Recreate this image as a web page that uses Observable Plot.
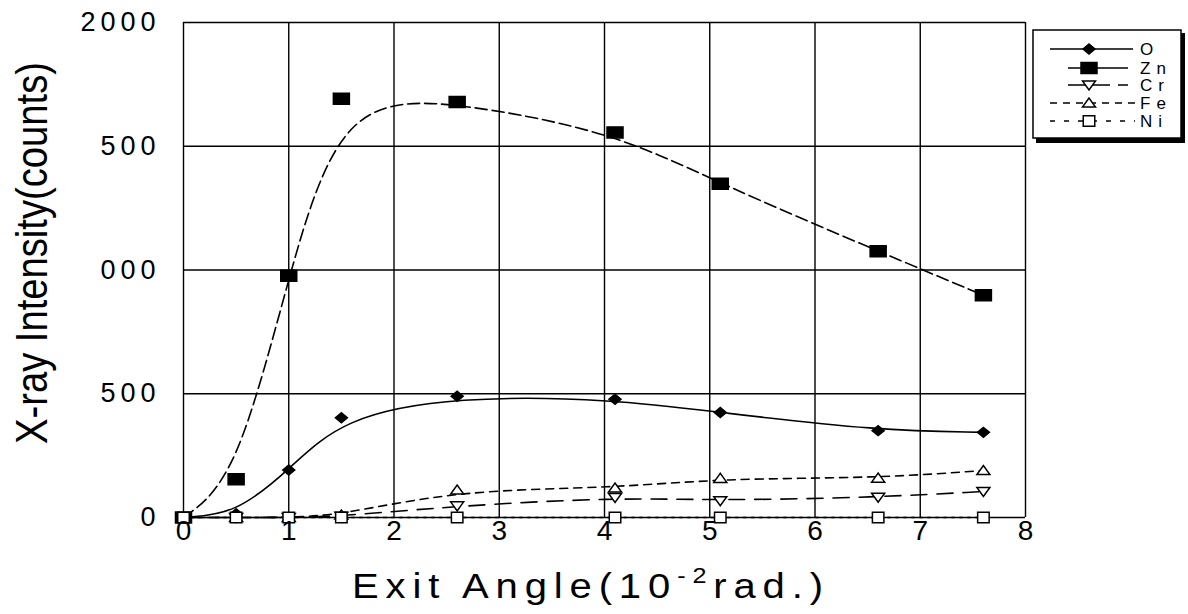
<!DOCTYPE html>
<html><head><meta charset="utf-8">
<script src="https://cdn.jsdelivr.net/npm/d3@7"></script>
<script src="https://cdn.jsdelivr.net/npm/@observablehq/plot@0.6"></script>
<style>
html,body{margin:0;padding:0;background:#fff;}
#chart{position:relative;width:1188px;height:614px;overflow:hidden;}
#chart svg{font-family: Arial, "Liberation Sans", sans-serif; color:#000;}
g[aria-label="y-axis tick label"] text { letter-spacing: 5px; }
</style>
</head><body><div id="chart"></div>
<script>
// ---- data ----
const angles = [0, 0.5, 1.0, 1.5, 2.6, 4.1, 5.1, 6.6, 7.6];
const O  = [0, 15, 192, 403, 490, 478, 424, 351, 344];
const Zn = [0, 155, 977, 1692, 1679, 1556, 1348, 1076, 898];
const Cr = [0, 0, 0, 5, 47, 81, 68, 82, 105];
const Fe = [0, 0, 0, 10, 111, 119, 158, 159, 190];
const Ni = [0, 0, 0, 0, 0, 0, 0, 0, 0];
const seriesNames = ["O", "Zn", "Cr", "Fe", "Ni"];
const seriesValues = [O, Zn, Cr, Fe, Ni];
const xTicks = [0, 1, 2, 3, 4, 5, 6, 7, 8];
const yTicks = [0, 500, 1000, 1500, 2000];
const yTickLabels = ["0", "500", "000", "500", "2000"];
const xTitle = ["Exit Angle(10", "-2", "rad.)"];
const yTitle = "X-ray Intensity(counts)";

// ---- symbols ----
const rad = s => Math.sqrt(s / Math.PI);
const symDiamond = {draw(c, s){const r = rad(s); c.moveTo(-1.2*r,0); c.lineTo(0,-r); c.lineTo(1.2*r,0); c.lineTo(0,r); c.closePath();}};
const symRect = {draw(c, s){const r = rad(s); c.rect(-1.6*r,-1.1*r,3.2*r,2.2*r);}};
const symDown = {draw(c, s){const r = rad(s); c.moveTo(-1.3*r,-0.8*r); c.lineTo(1.3*r,-0.8*r); c.lineTo(0,r); c.closePath();}};
const symUp = {draw(c, s){const r = rad(s); c.moveTo(-1.3*r,0.8*r); c.lineTo(1.3*r,0.8*r); c.lineTo(0,-r); c.closePath();}};
const symSquare = {draw(c, s){const r = rad(s); c.rect(-1.15*r,-1.05*r,2.3*r,2.1*r);}};

const styles = {
  O:  {dash: null,    sym: symDiamond, fill: "#000"},
  Zn: {dash: "12,5",  sym: symRect,    fill: "#000"},
  Cr: {dash: "16,10", sym: symDown,    fill: "#fff"},
  Fe: {dash: "8,6",   sym: symUp,      fill: "#fff"},
  Ni: {dash: "3,5",   sym: symSquare,  fill: "#fff"}
};

const rows = [];
seriesNames.forEach((s, si) => angles.forEach((a, i) => rows.push({series: s, angle: a, value: seriesValues[si][i]})));

const marks = [
  Plot.gridX(xTicks, {stroke: "#000", strokeOpacity: 1, strokeWidth: 1.4}),
  Plot.gridY(yTicks, {stroke: "#000", strokeOpacity: 1, strokeWidth: 1.4}),
];
seriesNames.forEach(s => {
  const d = rows.filter(r => r.series === s);
  marks.push(Plot.line(d, {x: "angle", y: "value", curve: "basis", stroke: "#000", strokeWidth: 1.6, strokeDasharray: styles[s].dash}));
});
seriesNames.forEach(s => {
  const d = rows.filter(r => r.series === s);
  marks.push(Plot.dot(d, {x: "angle", y: "value", symbol: styles[s].sym, r: 5, fill: styles[s].fill, stroke: "#000", strokeWidth: 1.5}));
});
marks.push(Plot.axisX(xTicks, {tickSize: 0, tickPadding: 3, fontSize: 28, label: null}));
marks.push(Plot.axisY(yTicks, {tickSize: 0, tickPadding: 23, fontSize: 27, label: null, tickFormat: d => yTickLabels[yTicks.indexOf(d)]}));

const chart = Plot.plot({
  width: 1188, height: 614,
  marginLeft: 183, marginRight: 163, marginTop: 22, marginBottom: 97,
  x: {domain: [0, 8]},
  y: {domain: [0, 2000]},
  style: {background: "#fff", color: "#000", overflow: "visible"},
  marks
});
document.getElementById("chart").appendChild(chart);

const svg = d3.select(chart);
// y title
svg.append("text")
  .attr("transform", "translate(47,253) rotate(-90)")
  .attr("text-anchor", "middle")
  .attr("font-size", 44)
  .attr("textLength", 382)
  .attr("lengthAdjust", "spacingAndGlyphs")
  .attr("fill", "#000")
  .text(yTitle);

// x title
const xt = svg.append("text").attr("fill", "#000").attr("font-size", 35)
  .attr("text-anchor", "start").style("letter-spacing", "6px");
xt.append("tspan").text(xTitle[0]);
xt.append("tspan").attr("font-size", 22).attr("dy", -15).text(xTitle[1]);
xt.append("tspan").attr("dy", 15).text(xTitle[2]);
const bw = xt.node().getBBox().width;
xt.attr("transform", `translate(352,598) scale(${478 / bw},1)`);

// legend
const lg = svg.append("g").attr("text-anchor", "start");
lg.append("rect").attr("x", 1036).attr("y", 33).attr("width", 149).attr("height", 110).attr("fill", "#000");
lg.append("rect").attr("x", 1033).attr("y", 30).attr("width", 148).attr("height", 108).attr("fill", "#fff").attr("stroke", "#000").attr("stroke-width", 1.5);
const lgY = [49, 68, 85, 103, 121];
const lgLine = {O: [1050, 1133], Zn: [1068, 1128], Cr: [1068, 1128], Fe: [1050, 1135], Ni: [1050, 1135]};
const lgDash = {O: null, Zn: null, Cr: "17,8", Fe: "7,6", Ni: "5,9"};
seriesNames.forEach((s, i) => {
  const y = lgY[i];
  lg.append("line").attr("x1", lgLine[s][0]).attr("x2", lgLine[s][1]).attr("y1", y).attr("y2", y)
    .attr("stroke", "#000").attr("stroke-width", 1.6).attr("stroke-dasharray", lgDash[s]);
  lg.append("path").attr("transform", `translate(1089,${y})`)
    .attr("d", d3.symbol(styles[s].sym, 25 * Math.PI)())
    .attr("fill", styles[s].fill).attr("stroke", "#000").attr("stroke-width", 1.5);
  lg.append("text").attr("x", 1140).attr("y", y + 6).attr("font-size", 17).attr("fill", "#000")
    .attr("text-anchor", "start").style("letter-spacing", "6px").text(s);
});
</script>
</body></html>
